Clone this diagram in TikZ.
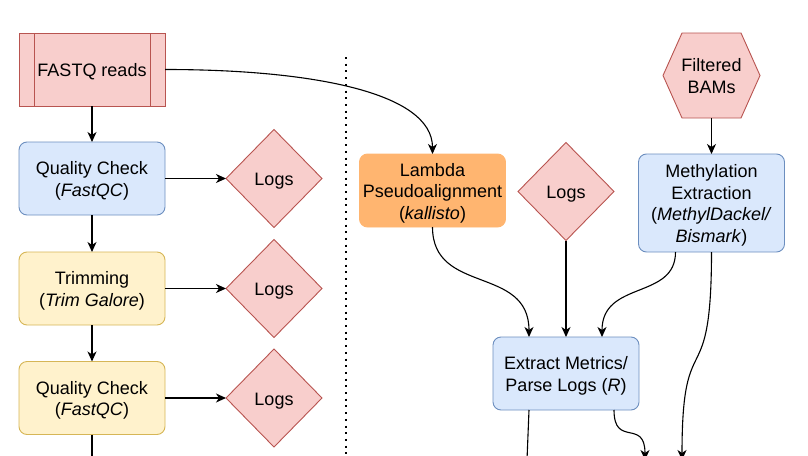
\documentclass[tikz,border=0pt]{standalone}
\usepackage{fontspec}
\setmainfont{Liberation Sans}
\usetikzlibrary{shapes.geometric,arrows.meta}
\definecolor{redfill}{HTML}{F8CECC}
\definecolor{redline}{HTML}{B85450}
\definecolor{bluefill}{HTML}{DAE8FC}
\definecolor{blueline}{HTML}{6C8EBF}
\definecolor{yellowfill}{HTML}{FFF2CC}
\definecolor{yellowline}{HTML}{D6B656}
\definecolor{orangefill}{HTML}{FFB570}

\begin{document}
\begin{tikzpicture}[x=1pt, y=-1pt,
          every node/.style = {font        = \fontsize{18}{21.5}\selectfont,
                               align       = center,
                               inner sep   = 0pt,
                               outer sep   = 0pt,
                               text height = 19pt,
                               text depth  = 4.6pt},
          twolines/.style   = {text height = 40.5pt},
          threelines/.style = {text height = 62pt},
          fourlines/.style  = {text height = 83.5pt},
          proc/.style       = {rectangle,
                               rounded corners = 8pt,
                               line width      = 0.9pt,
                               minimum width   = 146pt,
                               minimum height  = 73pt},
          blueproc/.style   = {proc, fill = bluefill,   draw = blueline},
          yellowproc/.style = {proc, fill = yellowfill, draw = yellowline},
          orangeproc/.style = {proc, fill = orangefill, draw = orangefill},
          redshape/.style   = {fill = redfill, draw = redline, line width = 0.9pt},
          readsbox/.style   = {redshape, rectangle,
                               minimum width  = 146pt,
                               minimum height = 73pt},
          logs/.style       = {redshape, diamond,
                               minimum width  = 96pt,
                               minimum height = 98pt},
          line/.style       = {line width = 1.1pt},
          link/.style       = {line, -{Stealth[length = 10pt, width = 9pt, inset = 3pt]}},
          divider/.style    = {line width   = 2pt,
                               dash pattern = on 2pt off 4.7pt}]
  \useasboundingbox (0,0) rectangle (808,455);

  \path (346,57)      coordinate (divtop)
        (346,455)     coordinate (divbot)
        (92,460)      coordinate (leftend)
        (527,460)     coordinate (metricsend)
        (645,460)     coordinate (plotend)
        (682,460)     coordinate (methend)
        (711.5,75.5)  coordinate (bamsc);

  % trimming and quality control
  \node [readsbox]   (reads)     at (92,69.5)    {FASTQ reads};
  \draw [redshape]   ([xshift=15pt]reads.north west)  -- ([xshift=15pt]reads.south west)
                     ([xshift=-15pt]reads.north east) -- ([xshift=-15pt]reads.south east);
  \node [blueproc, twolines]   (qcone) at (92,178.5) {Quality Check\\(\textit{FastQC})};
  \node [logs]       (logsone)   at (274,178.5)  {Logs};
  \node [yellowproc, twolines] (trim)  at (92,288.5) {Trimming\\(\textit{Trim Galore})};
  \node [logs]       (logstwo)   at (274,288.5)  {Logs};
  \node [yellowproc, twolines] (qctwo) at (92,398)   {Quality Check\\(\textit{FastQC})};
  \node [logs]       (logsthree) at (274,398)    {Logs};

  \foreach \a/\b in {reads/qcone, qcone/trim, trim/qctwo,
                     qcone/logsone, trim/logstwo, qctwo/logsthree}
    \draw [link] (\a) -- (\b);
  \draw [line] (qctwo) -- (leftend);

  \draw [divider] (divtop) -- (divbot);

  % lambda control and methylation
  \node [orangeproc, threelines] (lambda) at (432.5,190.5) {Lambda\\Pseudoalignment\\(\textit{kallisto})};
  \node [logs]       (logsfour)  at (566,191.5)   {Logs};
  \draw [redshape] (bamsc) ++(-48.5,0) -- ++(19,-42.5) -- ++(59,0) -- ++(19,42.5)
                           -- ++(-19,42.5) -- ++(-59,0) -- cycle;
  \node [twolines,
         minimum width  = 97pt,
         minimum height = 85pt] (bams) at (bamsc) {Filtered\\BAMs};
  \node [blueproc, fourlines,
         minimum height = 98pt] (meth) at (711.5,203) {Methylation\\Extraction\\(\textit{MethylDackel/}\\\textit{Bismark})};
  \node [blueproc, twolines] (extract) at (566,373.5) {Extract Metrics/\\Parse Logs (\textit{R})};

  \draw [link] (reads.east) .. controls (310,69.5) and (432.5,92) .. (lambda.north);
  \draw [link] (bams) -- (meth);
  \draw [link] (lambda.south) .. controls (432.5,295) and (529,265) .. ([xshift=-37pt]extract.north);
  \draw [link] (logsfour) -- (extract);
  \draw [link] ([xshift=-36pt]meth.south) .. controls (675.5,300) and (602,280) .. ([xshift=36pt]extract.north);
  \draw [link] (meth.south) .. controls (711.5,400) and (682,320) .. (methend);
  \draw [line] ([xshift=-37pt]extract.south) -- (metricsend);
  \draw [link] ([xshift=48pt]extract.south) .. controls (614,448) and (645,418) .. (plotend);
\end{tikzpicture}
\end{document}
